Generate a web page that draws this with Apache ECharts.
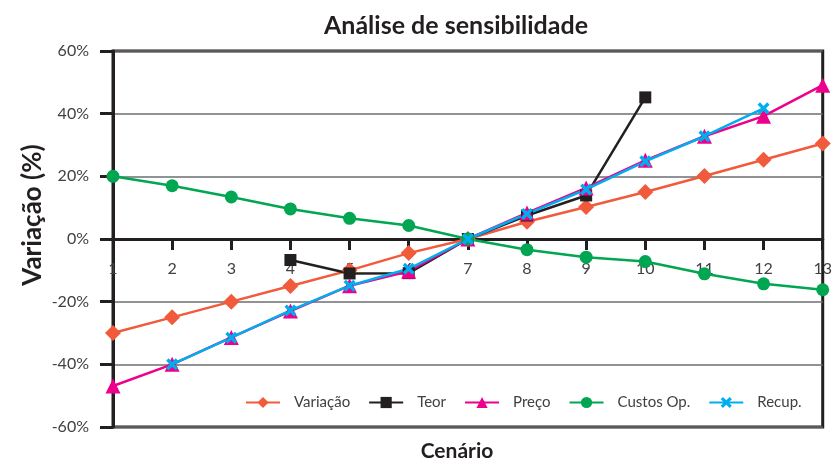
<!DOCTYPE html>
<html><head><meta charset="utf-8">
<script src="https://cdn.jsdelivr.net/npm/echarts@6/dist/echarts.min.js"></script>
<style>html,body{margin:0;padding:0;background:#fff}#c{width:835px;height:463px}</style>
</head><body><div id="c"></div>
<script>
var categories = ['1','2','3','4','5','6','7','8','9','10','11','12','13'];
var yTicks = [-60,-40,-20,0,20,40,60];
var variacao = [-30,-25,-20,-15,-10,-4.5,0,5.5,10.2,15,20.1,25.3,30.5];
var teor = [null,null,null,-6.7,-11,-10.9,0,7.5,13.9,45.2,null,null,null];
var preco = [-46.9,-40,-31.4,-23,-14.9,-10.3,0,8.3,16.3,25.1,32.8,39.2,49.1];
var custos = [20,17,13.4,9.6,6.6,4.3,0,-3.4,-5.8,-7.2,-11.1,-14.3,-16.2];
var recup = [null,-40,-31.5,-22.8,-14.9,-9.5,0,8,15.8,24.8,32.8,41.7,null];

var font = 'Lato, "Open Sans", sans-serif';
var dark = '#231f20';
var textCol = '#414042';
var xPath = 'path://M0,2 L2,0 L5,3 L8,0 L10,2 L7,5 L10,8 L8,10 L5,7 L2,10 L0,8 L3,5 Z';

function mk(name, data, color, symbol, size) {
  return {
    name: name, type: 'line', data: data, symbol: symbol, symbolSize: size,
    showAllSymbol: true, connectNulls: false, zlevel: 1, z: 10,
    lineStyle: { color: color, width: 2.5 },
    itemStyle: { color: color },
    emphasis: { disabled: true }
  };
}

var gridTop = 51, gridBottom = 36, H = 463;
var plotH = H - gridTop - gridBottom;
var zeroOffset = -plotH * (0 - yTicks[0]) / (yTicks[yTicks.length-1] - yTicks[0]);

var chart = echarts.init(document.getElementById('c'), null, { renderer: 'canvas' });
chart.setOption({
  animation: false,
  backgroundColor: '#fff',
  textStyle: { fontFamily: font },
  title: {
    text: 'Análise de sensibilidade', left: 451, top: 8, textAlign: 'center',
    textStyle: { fontFamily: font, fontWeight: 'bold', fontSize: 25, color: dark }
  },
  grid: {
    left: 113, right: 6, top: gridTop, bottom: gridBottom, show: true, z: 0,
    borderColor: dark, borderWidth: 3, backgroundColor: 'transparent'
  },
  legend: {
    left: 240, top: 390, itemWidth: 34, itemHeight: 14, itemGap: 18, zlevel: 2,
    textStyle: { fontFamily: font, fontSize: 15, color: textCol, padding: [0,0,0,9] },
    data: ['Variação','Teor','Preço','Custos Op.','Recup.']
  },
  xAxis: {
    type: 'category', data: categories, boundaryGap: false, z: 0,
    offset: zeroOffset,
    axisLine: { onZero: false, lineStyle: { color: dark, width: 3 } },
    axisTick: { show: true, length: 11, lineStyle: { color: dark, width: 3 }, alignWithLabel: true },
    axisLabel: { margin: 22, fontFamily: font, fontSize: 16, color: textCol },
    splitLine: { show: false }
  },
  yAxis: {
    type: 'value', min: yTicks[0], max: yTicks[yTicks.length-1], interval: 20, z: 0,
    axisLine: { show: true, lineStyle: { color: dark, width: 3 } },
    axisTick: { show: true, length: 13, lineStyle: { color: dark, width: 3 } },
    axisLabel: { margin: 24, fontFamily: font, fontSize: 16, color: textCol, formatter: '{value}%' },
    splitLine: { show: true, lineStyle: { color: '#6d6e71', width: 1.5 } }
  },
  graphic: [
    { type: 'text', x: 33, y: 215, rotation: Math.PI/2, style: {
        text: 'Variação (%)', fill: dark, font: 'bold 26px ' + font,
        textAlign: 'center', textVerticalAlign: 'middle' } },
    { type: 'text', x: 457, y: 451, style: {
        text: 'Cenário', fill: dark, font: 'bold 21px ' + font,
        textAlign: 'center', textVerticalAlign: 'middle' } }
  ],
  series: [
    mk('Variação', variacao, '#f15a3a', 'diamond', 16),
    mk('Teor', teor, dark, 'rect', 12),
    mk('Preço', preco, '#ec008c', 'triangle', 15),
    mk('Custos Op.', custos, '#00a651', 'circle', 13),
    mk('Recup.', recup, '#00aeef', xPath, 12)
  ]
});
</script>
</body></html>
